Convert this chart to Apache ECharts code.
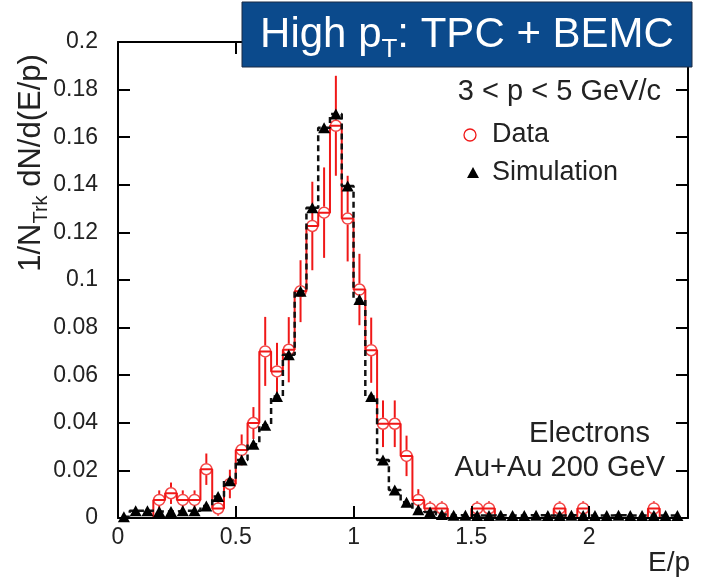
<!DOCTYPE html>
<html><head><meta charset="utf-8">
<script src="https://cdn.jsdelivr.net/npm/echarts@6/dist/echarts.min.js"></script>
<style>html,body{margin:0;padding:0;background:#fff}#c{width:704px;height:579px}</style>
</head><body><div id="c"></div>
<script>
// E/p bin centres (bin width 0.05)
const binCenters = [0.025,0.075,0.125,0.175,0.225,0.275,0.325,0.375,0.425,0.475,0.525,0.575,0.625,0.675,0.725,0.775,0.825,0.875,0.925,0.975,1.025,1.075,1.125,1.175,1.225,1.275,1.325,1.375,1.425,1.475,1.525,1.575,1.625,1.675,1.725,1.775,1.825,1.875,1.925,1.975,2.025,2.075,2.125,2.175,2.225,2.275,2.325,2.375];
// Data (red open circles)
const dataValues = [0,0,0,0.0076,0.0104,0.0076,0.0076,0.0205,0.0040,0.0143,0.0286,0.0399,0.0700,0.0616,0.0707,0.0953,0.1227,0.1283,0.1648,0.1258,0.0960,0.0705,0.0396,0.0396,0.0261,0.0076,0.0040,0.0040,0,0,0.0040,0.0040,0,0,0,0,0,0.0040,0,0.0040,0,0,0,0,0,0.0040,0,0];
const dataErrors = [0,0,0,0.004,0.0045,0.004,0.004,0.0066,0.003,0.006,0.0065,0.0067,0.0145,0.012,0.0137,0.013,0.0186,0.019,0.021,0.018,0.015,0.0137,0.0098,0.0098,0.0085,0.0045,0.003,0.003,0,0,0.003,0.003,0,0,0,0,0,0.003,0,0.003,0,0,0,0,0,0.003,0,0];
// Simulation (black triangles)
const simValues = [0.0005,0.003,0.003,0.0027,0.0027,0.003,0.003,0.005,0.009,0.0157,0.0244,0.031,0.039,0.051,0.0686,0.0953,0.1304,0.164,0.1697,0.1395,0.0918,0.051,0.0244,0.0118,0.0066,0.0035,0.0025,0.0015,0.0012,0.0012,0.0011,0.0011,0.0012,0.0011,0.0011,0.0012,0.0011,0.0011,0.0012,0.0011,0.0011,0.0011,0.0012,0.0011,0.0011,0.0011,0.0011,0.0011];

const RED = '#f01818';
const FF = 'Liberation Sans, Arial, sans-serif';

const simSeriesData = binCenters.map((x, i) => [x, simValues[i]]);
const dataStepData = binCenters.map((x, i) => [x, dataValues[i]]);
const dataPoints = binCenters.map((x, i) => [x, dataValues[i], dataErrors[i]]).filter(d => d[1] > 0);

const chart = echarts.init(document.getElementById('c'), null, {renderer: 'canvas'});

const axisCommon = {
  type: 'value', min: 0, max: 2.42, interval: 0.5,
  axisLine: {show: true, onZero: false, lineStyle: {color: '#000', width: 2}},
  axisTick: {show: true, inside: true, length: 12, lineStyle: {color: '#000', width: 2}},
  splitLine: {show: false}, z: 10
};
const yCommon = {
  type: 'value', min: 0, max: 0.2, interval: 0.02,
  axisLine: {show: true, onZero: false, lineStyle: {color: '#000', width: 2}},
  axisTick: {show: true, inside: true, length: 12, lineStyle: {color: '#000', width: 2}},
  splitLine: {show: false}, z: 10
};

chart.setOption({
  animation: false,
  backgroundColor: '#fff',
  grid: {left: 118, right: 16, top: 42, bottom: 61},
  xAxis: [
    Object.assign({}, axisCommon, {position: 'bottom',
      axisLabel: {fontSize: 23, fontFamily: FF, color: '#222', margin: 8, showMaxLabel: false}}),
    Object.assign({}, axisCommon, {position: 'top', axisLabel: {show: false}})
  ],
  yAxis: [
    Object.assign({}, yCommon, {position: 'left',
      axisLabel: {fontSize: 23, fontFamily: FF, color: '#222', margin: 20}}),
    Object.assign({}, yCommon, {position: 'right', axisLabel: {show: false}})
  ],
  series: [
    {
      name: 'Data', type: 'line', step: 'middle', data: dataStepData,
      showSymbol: false, symbol: 'none',
      lineStyle: {color: RED, width: 2}, z: 3
    },
    {
      name: 'Data', type: 'custom', data: dataPoints, encode: {x: 0, y: 1}, z: 3,
      renderItem: function (params, api) {
        const x = api.value(0), v = api.value(1), e = api.value(2);
        const c = api.coord([x, v]);
        const t = api.coord([x, v + e]);
        const b = api.coord([x, Math.max(0, v - e)]);
        const gap = 6;
        const children = [];
        if (t[1] < c[1] - gap) children.push({type: 'line', shape: {x1: c[0], y1: t[1], x2: c[0], y2: c[1] - gap}, style: {stroke: RED, lineWidth: 2}});
        if (b[1] > c[1] + gap) children.push({type: 'line', shape: {x1: c[0], y1: c[1] + gap, x2: c[0], y2: b[1]}, style: {stroke: RED, lineWidth: 2}});
        return {type: 'group', children: children};
      }
    },
    {
      name: 'Data', type: 'scatter', data: dataPoints.map(d => [d[0], d[1]]),
      symbol: 'circle', symbolSize: 11,
      itemStyle: {color: 'rgba(255,255,255,0)', borderColor: RED, borderWidth: 1.5}, z: 4
    },
    {
      name: 'Simulation', type: 'line', step: 'middle', data: simSeriesData,
      symbol: 'triangle', symbolSize: [12, 11], showSymbol: true, showAllSymbol: true,
      itemStyle: {color: '#000'},
      lineStyle: {color: '#111', width: 2.5, type: [6, 4]}, z: 5
    }
  ],
  graphic: [
    {type: 'rect', shape: {x: 242, y: 2, width: 450, height: 65},
     style: {fill: '#0b4a8c', stroke: '#1b2b44', lineWidth: 1}, z: 20},
    {type: 'text', x: 467, y: 35, z: 21,
     style: {text: 'High p{sub|T}: TPC + BEMC', fill: '#fff', fontSize: 42, fontFamily: FF,
       align: 'center', verticalAlign: 'middle', textAlign: 'center', textVerticalAlign: 'middle',
       lineHeight: 56,
       rich: {sub: {fontSize: 26, fontFamily: FF, fill: '#fff', lineHeight: 26, verticalAlign: 'bottom'}}}},
    {type: 'text', x: 31, y: 163, rotation: Math.PI / 2, z: 21,
     style: {text: '1/N{sub|Trk} dN/d(E/p)', fill: '#222', fontSize: 31, fontFamily: FF,
       align: 'center', verticalAlign: 'middle', textAlign: 'center', textVerticalAlign: 'middle',
       lineHeight: 40,
       rich: {sub: {fontSize: 20, fontFamily: FF, fill: '#222', lineHeight: 20, verticalAlign: 'bottom'}}}},
    {type: 'text', x: 690, y: 563, z: 21,
     style: {text: 'E/p', fill: '#222', fontSize: 28, fontFamily: FF,
       align: 'right', verticalAlign: 'middle', textAlign: 'right', textVerticalAlign: 'middle'}},
    {type: 'text', x: 661, y: 92, z: 21,
     style: {text: '3 < p < 5 GeV/c', fill: '#222', fontSize: 29, fontFamily: FF,
       align: 'right', verticalAlign: 'middle', textAlign: 'right', textVerticalAlign: 'middle'}},
    {type: 'circle', shape: {cx: 470, cy: 135, r: 6}, style: {fill: 'rgba(0,0,0,0)', stroke: RED, lineWidth: 1.3}, z: 21},
    {type: 'text', x: 492, y: 135, z: 21,
     style: {text: 'Data', fill: '#222', fontSize: 27, fontFamily: FF,
       align: 'left', verticalAlign: 'middle', textAlign: 'left', textVerticalAlign: 'middle'}},
    {type: 'polygon', shape: {points: [[473, 167], [479, 178], [467, 178]]}, style: {fill: '#000'}, z: 21},
    {type: 'text', x: 492, y: 173, z: 21,
     style: {text: 'Simulation', fill: '#222', fontSize: 27, fontFamily: FF,
       align: 'left', verticalAlign: 'middle', textAlign: 'left', textVerticalAlign: 'middle'}},
    {type: 'text', x: 650, y: 434, z: 21,
     style: {text: 'Electrons', fill: '#222', fontSize: 29, fontFamily: FF,
       align: 'right', verticalAlign: 'middle', textAlign: 'right', textVerticalAlign: 'middle'}},
    {type: 'text', x: 665, y: 468, z: 21,
     style: {text: 'Au+Au 200 GeV', fill: '#222', fontSize: 29, fontFamily: FF,
       align: 'right', verticalAlign: 'middle', textAlign: 'right', textVerticalAlign: 'middle'}}
  ]
});
</script>
</body></html>
